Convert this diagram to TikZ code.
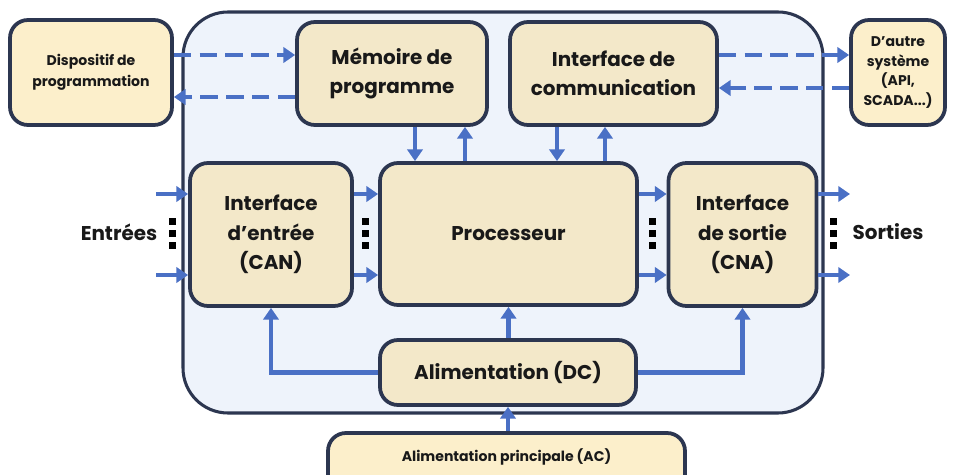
\documentclass[tikz,border=0pt]{standalone}
\usepackage{fontspec}
\setmainfont{Poppins}
\usetikzlibrary{arrows.meta}

\definecolor{plcnavy}{HTML}{2C3650}
\definecolor{plcblue}{HTML}{4A70C5}
\definecolor{plcfond}{HTML}{EEF3FB}
\definecolor{blocfill}{HTML}{F3E8C9}
\definecolor{extfill}{HTML}{FCEFCB}

\begin{document}
\begin{tikzpicture}[x=0.3mm, y=-0.3mm, line width=1pt,
    bloc/.style={draw=plcnavy, line width=3.2pt, rounded corners=5.4mm, fill=blocfill,
      align=center, inner sep=0pt, text=black!90,
      font=\fontsize{17}{25}\selectfont\bfseries},
    externe/.style={bloc, fill=extfill, font=\fontsize{12}{18}\selectfont\bfseries},
    fleche/.style={draw=plcblue, line width=3.8pt, -{Triangle[length=10pt,width=13pt]}},
    tirets/.style={fleche, dash pattern=on 15pt off 7pt},
    etiquette/.style={text=black!90, font=\fontsize{17}{25}\selectfont\bfseries}]
    \useasboundingbox[fill=white] (0,0) rectangle (953,475);
    % automate
    \node[draw=plcnavy, line width=2.6pt, fill=plcfond, rounded corners=13.5mm,
      minimum width=192mm, minimum height=120.3mm] (plc) at (503,212.5) {};
    % blocs
    \node[externe, minimum width=48.6mm, minimum height=31.5mm] (disp) at (91,72.5) {Dispositif de\\programmation};
    \node[bloc, minimum width=57mm, minimum height=30.9mm] (mem) at (392,73.5) {Mémoire de\\programme};
    \node[bloc, minimum width=62.1mm, minimum height=30.9mm] (comm) at (613.5,73.5) {Interface de\\communication};
    \node[externe, minimum width=28.2mm, minimum height=31.5mm,
      font=\fontsize{12}{17}\selectfont\bfseries] (autre) at (898,72.5) {D’autre\\système\\(API,\\SCADA...)};
    \node[bloc, minimum width=48.6mm, minimum height=42.9mm] (entree) at (271,234.5) {Interface\\d’entrée\\(CAN)};
    \node[bloc, minimum width=77.1mm, minimum height=42.6mm] (proc) at (508.5,234) {Processeur};
    \node[bloc, minimum width=44.4mm, minimum height=42.9mm] (sortie) at (742.5,234.5) {Interface\\de sortie\\(CNA)};
    \node[bloc, minimum width=76.8mm, minimum height=19.5mm] (dc) at (508,372.5) {Alimentation (DC)};
    \node[externe, minimum width=107.1mm, minimum height=18mm, text depth=13pt] (ac) at (506.5,463) {Alimentation principale (AC)};
    \node[etiquette] (entrees) at (119,232) {Entrées};
    \node[etiquette] (sorties) at (888,232) {Sorties};
    % liaisons pointillees
    \draw[tirets] (disp.east |- 0,55) -- (mem.west |- 0,55);
    \draw[tirets] (mem.west |- 0,97) -- (disp.east |- 0,97);
    \draw[tirets] (comm.east |- 0,55) -- (autre.west |- 0,55);
    \draw[tirets] (autre.west |- 0,88) -- (comm.east |- 0,88);
    % bus internes
    \draw[fleche] (mem.south -| 415,0) -- (proc.north -| 415,0);
    \draw[fleche] (proc.north -| 465,0) -- (mem.south -| 465,0);
    \draw[fleche] (comm.south -| 557,0) -- (proc.north -| 557,0);
    \draw[fleche] (proc.north -| 605,0) -- (comm.south -| 605,0);
    \foreach \y [count=\i] in {194,275} {
        \coordinate (in\i) at (156,\y);
        \coordinate (out\i) at (850,\y);
        \draw[fleche] (in\i) -- (entree.west |- in\i);
        \draw[fleche] (entree.east |- in\i) -- (proc.west |- in\i);
        \draw[fleche] (proc.east |- in\i) -- (sortie.west |- in\i);
        \draw[fleche] (sortie.east |- in\i) -- (out\i);
    }
    % alimentation
    \draw[fleche] (dc.north -| proc.south) -- (proc.south);
    \draw[fleche] (dc.west) -| (entree.south);
    \draw[fleche] (dc.east) -| (sortie.south);
    \draw[fleche] (dc.south |- ac.north) -- (dc.south);
    % points de suspension
    \foreach \x in {172,365,652,833}
        \foreach \y in {222,234,246}
            \fill (\x-3.5,\y-3.5) rectangle (\x+3.5,\y+3.5);
\end{tikzpicture}
\end{document}
